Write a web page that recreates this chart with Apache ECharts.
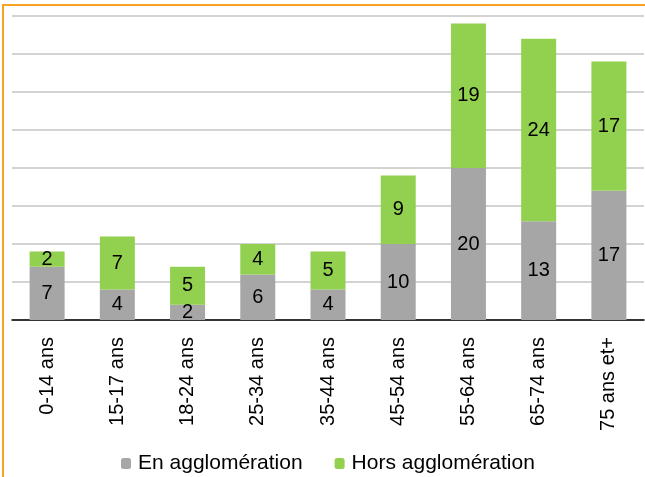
<!DOCTYPE html>
<html>
<head>
<meta charset="utf-8">
<script src="https://cdn.jsdelivr.net/npm/echarts@6/dist/echarts.min.js"></script>
<style>
  html, body { margin: 0; padding: 0; background: #fff; }
  #chart { width: 645px; height: 477px; }
</style>
</head>
<body>
<div id="chart"></div>
<script>
const categories = ['0-14 ans', '15-17 ans', '18-24 ans', '25-34 ans', '35-44 ans', '45-54 ans', '55-64 ans', '65-74 ans', '75 ans et+'];
const enAgglo = [7, 4, 2, 6, 4, 10, 20, 13, 17];
const horsAgglo = [2, 7, 5, 4, 5, 9, 19, 24, 17];

const font = '"Liberation Sans", Arial, sans-serif';
const chart = echarts.init(document.getElementById('chart'));

const labelStyle = {
  show: true,
  position: 'inside',
  color: '#000',
  fontSize: 20,
  fontFamily: font,
};

chart.setOption({
  animation: false,
  graphic: [{
    type: 'rect',
    shape: { x: 3, y: 5, width: 720, height: 520 },
    style: { fill: 'none', stroke: '#f8a320', lineWidth: 2 },
    z: 100,
  }],
  grid: { left: 12, right: 1, top: 16, bottom: 157 },
  legend: {
    left: 121,
    top: 453,
    padding: 0,
    itemWidth: 10,
    itemHeight: 11,
    itemGap: 32,
    textStyle: { fontSize: 21, fontFamily: font, color: '#000', padding: [0, 0, 0, 2] },
    data: ['En agglomération', 'Hors agglomération'],
  },
  xAxis: {
    type: 'category',
    data: categories,
    axisLine: { lineStyle: { color: '#000', width: 1.5 } },
    axisTick: { length: 8, lineStyle: { color: '#000', width: 1.5 } },
    axisLabel: {
      rotate: 90,
      margin: 17,
      interval: 0,
      color: '#000',
      fontSize: 20,
      fontFamily: font,
    },
  },
  yAxis: {
    type: 'value',
    min: 0,
    max: 40,
    interval: 5,
    axisLine: { show: false },
    axisTick: { show: false },
    axisLabel: { show: false },
    splitLine: { lineStyle: { color: '#c4c4c4', width: 1.5 } },
  },
  series: [
    {
      name: 'En agglomération',
      type: 'bar',
      stack: 'total',
      barWidth: 35,
      data: enAgglo,
      itemStyle: { color: '#a6a6a6' },
      label: labelStyle,
    },
    {
      name: 'Hors agglomération',
      type: 'bar',
      stack: 'total',
      barWidth: 35,
      data: horsAgglo,
      itemStyle: { color: '#92d050' },
      label: labelStyle,
    },
  ],
});
</script>
</body>
</html>
